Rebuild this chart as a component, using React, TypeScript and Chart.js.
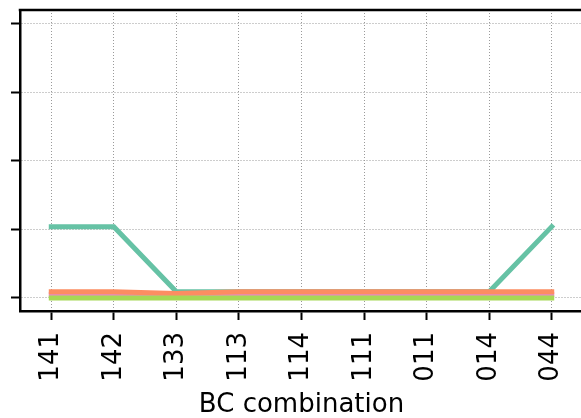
import React, { useEffect, useRef } from "react";
import { Chart, registerables } from "chart.js";

Chart.register(...registerables);

const categories = ["141", "142", "133", "113", "114", "111", "011", "014", "044"];
const tealSeries = [1.04, 1.04, 0.09, 0.09, 0.09, 0.09, 0.09, 0.09, 1.04];
const orangeSeries = [0.09, 0.09, 0.065, 0.09, 0.09, 0.09, 0.09, 0.09, 0.09];
const pinkSeries = [0.05, 0.05, 0.05, 0.05, 0.05, 0.05, 0.05, 0.05, 0.05];
const greenSeries = [0, 0, 0, 0, 0, 0, 0, 0, 0];
const yTicks = [0, 1, 2, 3, 4];
const xTitle = "BC combination";

const FONT = "'DejaVu Sans', sans-serif";

const frame = {
  id: "frameTop",
  afterDraw(chart: any) {
    const { ctx, chartArea } = chart;
    ctx.save();
    ctx.strokeStyle = "#000";
    ctx.lineWidth = 2.5;
    ctx.setLineDash([]);
    ctx.beginPath();
    ctx.moveTo(chartArea.left - 1.25, chartArea.top);
    ctx.lineTo(chart.width, chartArea.top);
    ctx.stroke();
    ctx.restore();
  },
};

export default function App() {
  const ref = useRef<HTMLCanvasElement | null>(null);
  useEffect(() => {
    if (!ref.current) return;
    const line = (data: number[], color: string) => ({
      data,
      borderColor: color,
      backgroundColor: color,
      borderWidth: 5,
      pointRadius: 0,
      borderCapStyle: "square" as const,
      borderJoinStyle: "miter" as const,
      tension: 0,
      fill: false,
    });
    const gridOpts = {
      color: "#9a9a9a",
      lineWidth: 1,
      drawTicks: true,
      tickLength: 9,
      tickColor: "#000",
      tickWidth: 2,
      tickBorderDash: [],
    };
    const chart = new Chart(ref.current, {
      type: "line",
      data: {
        labels: categories,
        datasets: [
          line(greenSeries, "#a6d854"),
          line(orangeSeries, "#fc8d62"),
          line(pinkSeries, "#e78ac3"),
          line(tealSeries, "#66c2a5"),
        ],
      },
      plugins: [frame],
      options: {
        responsive: false,
        animation: false,
        devicePixelRatio: 1,
        layout: { padding: { top: 10, right: 17, left: 0, bottom: 0 } },
        plugins: { legend: { display: false }, tooltip: { enabled: false } },
        scales: {
          x: {
            type: "category",
            offset: true,
            grid: { ...gridOpts, offset: false },
            border: { display: true, color: "#000", width: 2.5, dash: [1, 2] },
            ticks: {
              minRotation: 90,
              maxRotation: 90,
              autoSkip: false,
              padding: 12,
              color: "#000",
              font: { family: FONT, size: 26 },
            },
            title: {
              display: true,
              text: xTitle,
              color: "#000",
              font: { family: FONT, size: 26, lineHeight: 1 },
              padding: { top: 0, bottom: 0 },
            },
            afterFit: (s: any) => {
              s.height = 107;
            },
          },
          y: {
            type: "linear",
            min: -0.19,
            max: 4.2,
            afterBuildTicks: (s: any) => {
              s.ticks = yTicks.map((v) => ({ value: v }));
            },
            grid: gridOpts,
            border: { display: true, color: "#000", width: 2.5, dash: [1, 2] },
            ticks: { display: false },
            afterFit: (s: any) => {
              s.width = 20;
            },
          },
        },
      },
    });
    return () => chart.destroy();
  }, []);
  return (
    <div style={{ position: "absolute", left: 0, top: 0, width: 581, height: 418, overflow: "hidden", background: "#fff" }}>
      <canvas ref={ref} width={600} height={418} style={{ width: 600, height: 418, display: "block" }} />
    </div>
  );
}
